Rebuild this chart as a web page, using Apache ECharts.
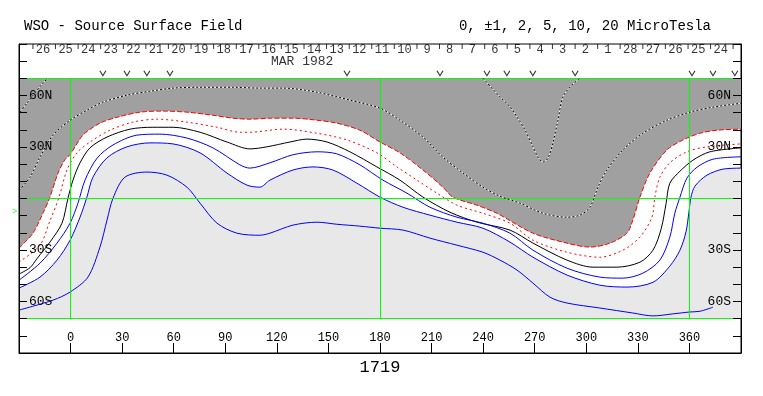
<!DOCTYPE html>
<html>
<head>
<meta charset="utf-8">
<script src="https://cdn.jsdelivr.net/npm/echarts@6/dist/echarts.min.js"></script>
<style>
  html, body { margin: 0; padding: 0; background: #fff; }
  #chart { width: 763px; height: 396px; }
</style>
</head>
<body>
<div id="chart"></div>
<script>
// contour lines, [carrington longitude, latitude]
const neg2Line = [[-30,-28.9],[-21.9,-20.2],[-16.1,-8.6],[-12,0.8],[-7.3,14.8],[-3.3,22.6],[-0.3,25.5],[7.2,36.9],[17.1,43.9],[27,47.3],[40.4,50.3],[53.8,50.9],[67.7,50.3],[82.8,48.5],[94.5,46.8],[104.3,46.2],[116,46.8],[129.4,46.8],[143.4,45.6],[154.9,43.9],[168.3,39.8],[180,32.9],[191.6,26.6],[205,16.6],[216.6,6.6],[222.4,0.8],[236.4,-3.9],[248,-8.6],[269,-20.2],[288.8,-26],[302.1,-28.3],[313.8,-26],[323.6,-20.2],[327.1,-12.6],[331.2,0.8],[337,14.8],[346.9,28.3],[356.2,34.1],[366.1,38],[376,39.8],[390,40.4]];
const neg1Line = [[-30,-37],[-17.8,-27.2],[-12,-13],[-6.8,0.5],[-2.1,16.6],[3.7,26.6],[11.3,32.9],[22.9,39.8],[36.3,44.5],[50.3,46.2],[67.7,44.5],[85.2,41.5],[98.5,38.6],[104.3,38.6],[123.6,40.4],[143.4,38],[160.8,34.1],[178.2,26.6],[189.9,18.4],[201.5,10.7],[213.1,3.1],[224.8,-3.9],[239.9,-8.6],[255.6,-14.4],[269,-24.3],[288.8,-31.3],[307.9,-34.2],[321.3,-30.1],[331.2,-22.5],[338.2,-10.9],[339.9,0.8],[342.8,12.4],[348.6,20.8],[358.5,27.2],[370.2,30.1],[390,31.8]];
const zeroLine = [[-30,-44],[-23.6,-40.3],[-19.5,-35],[-12,-25.4],[-5,-14.4],[-1.5,0.2],[1.4,10.7],[5.5,20.8],[11.3,29.5],[21.2,35.8],[34.6,40.4],[47.9,41.5],[59.6,41.5],[75.3,38.6],[91,32.9],[104.3,28.9],[114.2,30.1],[127.6,32.9],[137.5,34.6],[149.2,32.9],[162.5,27.2],[178.2,18.4],[191.6,10.7],[205,0.8],[220.7,-8],[236.4,-13.8],[255.6,-18.4],[269,-26],[288.8,-35.9],[303.9,-40],[317.8,-40],[331.2,-37.1],[338.8,-30.1],[343.6,-17.5],[346.4,-3],[348.6,8.9],[354.5,15.9],[362,22.3],[371.9,27.2],[390,29.5]];
const pos1Line = [[-30,-47.6],[-17.8,-37.7],[-7.9,-26],[-0.3,-14.4],[4.3,-2.7],[8.4,10.7],[15.4,23.5],[24.7,31.2],[38.6,36.9],[52,37.5],[67.7,35.2],[82.8,29.5],[98.5,19.6],[104.3,17.7],[116,20.8],[129.4,25.5],[143.4,27.2],[154.9,26],[168.3,19.6],[181.7,10.7],[195.7,3.1],[209.1,-5.1],[224.8,-10.9],[239.9,-14.4],[255.6,-20.2],[269,-30.1],[288.8,-40.6],[307.9,-45.8],[321.3,-46.4],[332.9,-43.5],[342.8,-35.9],[348.6,-22.5],[351.5,-8.6],[354.5,0.8],[358.5,11.8],[364.4,18.2],[373.7,22.9],[390,24.3]];
const pos2Line = [[-30,-52.2],[-17.8,-45.8],[-7.9,-35.9],[-0.3,-24.3],[5.5,-10.9],[9.5,0.8],[13,12.4],[21.2,23.7],[32.8,30.1],[46.2,32.4],[59.6,31.8],[75.3,26.6],[91,14.8],[102.6,7.8],[110.1,6.6],[116,10.7],[129.4,16.6],[141,18.4],[152.6,16.6],[166.6,8.9],[180,0.8],[193.4,-5.1],[209.1,-9.7],[224.8,-13.8],[239.9,-17.3],[255.6,-25.4],[269,-34.2],[288.8,-44.6],[307.9,-50.5],[323.6,-51.6],[338.8,-48.8],[348.6,-39.4],[354.5,-30.1],[358,-19.4],[359.7,-8],[360.9,0.8],[363.2,7.2],[370.2,13.6],[379.5,17.1],[390,17.7]];
const pos5Line = [[-30,-65],[-10.2,-59.2],[-0.3,-54.5],[10.1,-45.8],[17.1,-28.3],[21.2,-12.6],[24.7,0.2],[31.6,12.4],[44.4,15.4],[56.1,13.6],[67.7,6.6],[75.3,-2.7],[85.2,-14.4],[96.8,-20.2],[110.1,-21.4],[116,-20.2],[129.4,-15.5],[143.4,-13.8],[154.9,-15],[168.3,-16.1],[180,-17.3],[193.4,-18.4],[209.1,-23.1],[224.8,-27.2],[239.9,-31.3],[249.8,-35.9],[259.7,-41.7],[269,-49.3],[278.9,-57.5],[288.8,-60.9],[307.9,-63.8],[327.1,-66.7],[338.8,-68.4],[350.4,-67.2],[360.3,-66.1],[366.1,-65.7],[373.7,-63.3]];
const neg5LineA = [[-29.4,50.3],[-25.4,55.5],[-16.1,67.2],[-13.1,70]];
const neg5LineB = [[-30,4.8],[-23.6,12.4],[-17.8,24.1],[-10.2,36.9],[-0.3,45.6],[9.5,51.4],[18.8,56.1],[32.8,60.2],[46.2,62.5],[59.6,64.3],[75.3,64.8],[94.5,64.8],[110.1,64.3],[123.6,64.3],[143.4,61.9],[162.5,57.3],[180,52.6],[191.6,45.6],[205,35.8],[216.6,24.1],[228.3,14.8],[239.9,6.6],[249.8,1.3],[261.4,-2.7],[274.8,-8.6],[288.8,-10.9],[296.3,-9.7],[302.1,-5.1],[306.8,6.6],[312,16.6],[321.3,28.3],[332.9,38],[346.9,45.6],[360.3,50.3],[373.7,53.2],[390,55.5]];
const neg5LineU = [[239.9,70],[249.8,59.2],[255.6,53.4],[259.7,47.5],[264.4,39.8],[269,30.1],[271.9,24.1],[274.8,21.3],[277.7,23.5],[280.6,32.4],[283.5,45.6],[286.4,59.2],[291.6,66],[296.3,70]];

// observation marks above the map
const obsLons = [18.8, 32.8, 44.4, 57.8, 160.8, 214.9, 242.2, 253.8, 268.9, 293.5, 361.5, 373.7, 386.4];
// day-of-month scale along the top
const dayNums = [26,25,24,23,22,21,20,19,18,17,16,15,14,13,12,11,10,9,8,7,6,5,4,3,2,1,28,27,26,25,24];
const dayLons = [-16,-2.9,10.3,23.4,36.6,49.7,62.8,76,89.1,102.3,115.4,128.5,141.7,154.8,168,181.1,194.2,207.4,220.5,233.7,246.8,259.9,273.1,286.2,299.4,312.5,325.6,338.8,351.9,365.1,378.2];
const dayTickLons = [-21.9,-8.8,4.4,17.5,30.7,43.8,56.9,70.1,83.2,96.4,109.5,122.6,135.8,148.9,162.1,175.2,188.3,201.5,214.6,227.8,240.9,254,267.2,280.3,293.5,306.6,319.7,332.9,346,359.2,372.3,385.4];
const greenLons = [0, 180, 360];
const greenLats = [70, 0, -70];
const latLabels = { 60: '60N', 30: '30N', '-30': '30S', '-60': '60S' };
const b0Lat = -7.5;

const FONT = 'Liberation Mono';
const chart = echarts.init(document.getElementById('chart'));

function contour(data, color, type, z) {
  return {
    type: 'line', data: data, symbol: 'none', smooth: 0.3, silent: true, z: z || 4,
    lineStyle: { color: color, width: 1, type: type }
  };
}

const greenMarks = greenLons.map(x => [{ coord: [x, -70] }, { coord: [x, 70] }])
  .concat(greenLats.map(y => [{ coord: [-30, y] }, { coord: [390, y] }]));

const yAxisBase = {
  type: 'value', min: -90, max: 90, interval: 10, z: 10,
  axisLine: { show: true, onZero: false, lineStyle: { color: '#000', width: 1 } },
  axisTick: { show: true, inside: true, length: 8, lineStyle: { color: '#000' } },
  axisLabel: {
    inside: true, margin: 10, color: '#000', fontFamily: FONT, fontSize: 13,
    formatter: v => latLabels[v] || ''
  },
  splitLine: { show: false }
};

chart.setOption({
  animation: false,
  backgroundColor: '#fff',
  title: [
    { text: 'WSO - Source Surface Field', left: 24, top: 19, padding: 0,
      textStyle: { fontFamily: FONT, fontSize: 14, fontWeight: 'normal', color: '#000' } },
    { text: '0, \u00b11, 2, 5, 10, 20 MicroTesla', right: 52, top: 19, padding: 0,
      textStyle: { fontFamily: FONT, fontSize: 14, fontWeight: 'normal', color: '#000' } }
  ],
  grid: { left: 19, right: 22, top: 44, bottom: 43, show: true, borderColor: '#000', borderWidth: 1, backgroundColor: '#fff' },
  xAxis: {
    type: 'value', min: -30, max: 390, interval: 30, position: 'bottom', z: 10,
    axisLine: { show: true, onZero: false, lineStyle: { color: '#000' } },
    axisTick: { inside: true, length: 10, lineStyle: { color: '#000' } },
    axisLabel: {
      inside: true, margin: 9, color: '#000', fontFamily: FONT, fontSize: 12,
      formatter: v => (v < 0 || v > 360) ? '' : String(v)
    },
    splitLine: { show: false },
    name: '1719', nameLocation: 'middle', nameGap: 5,
    nameTextStyle: { fontFamily: FONT, fontSize: 17, color: '#000' }
  },
  yAxis: [
    Object.assign({}, yAxisBase, { position: 'left' }),
    Object.assign({}, yAxisBase, { position: 'right' })
  ],
  series: [
    { type: 'line', data: neg2Line, symbol: 'none', smooth: 0.3, silent: true, z: 1,
      lineStyle: { width: 0 }, areaStyle: { color: '#a0a0a0', opacity: 1, origin: 70 } },
    { type: 'line', data: pos2Line, symbol: 'none', smooth: 0.3, silent: true, z: 1,
      lineStyle: { width: 0 }, areaStyle: { color: '#e8e8e8', opacity: 1, origin: -70 } },
    { type: 'line', data: [], symbol: 'none', silent: true, z: 2,
      markLine: { silent: true, symbol: ['none', 'none'], label: { show: false },
        lineStyle: { color: '#00ff00', width: 1, type: 'solid' }, data: greenMarks } },
    contour(neg2Line, '#ff0000', [5, 2]),
    contour(neg1Line, '#ff0000', [2, 3]),
    contour(zeroLine, '#000000', 'solid'),
    contour(pos1Line, '#0000ff', 'solid'),
    contour(pos2Line, '#0000ff', 'solid'),
    contour(pos5Line, '#0000ff', 'solid'),
    contour(neg5LineA, '#ffffff', 'solid'),
    contour(neg5LineA, '#000000', [2, 2], 5),
    contour(neg5LineB, '#ffffff', 'solid'),
    contour(neg5LineB, '#000000', [2, 2], 5),
    contour(neg5LineU, '#ffffff', 'solid'),
    contour(neg5LineU, '#000000', [2, 2], 5),
    { type: 'scatter', data: obsLons.map(x => [x, 73]), silent: true, z: 6,
      symbol: 'path://M0,0L5,8L10,0', symbolSize: [6, 5],
      itemStyle: { color: 'transparent', borderColor: '#000', borderWidth: 1 } },
    { type: 'scatter', data: dayTickLons.map(x => [x, 88.6]), silent: true, z: 6,
      symbol: 'rect', symbolSize: [1, 5], itemStyle: { color: '#000' } },
    { type: 'scatter', data: dayLons.map((x, i) => [x, 86.4, dayNums[i]]), silent: true, z: 6,
      symbolSize: 1, itemStyle: { color: 'transparent' },
      label: { show: true, position: 'inside', formatter: p => String(p.value[2]),
        fontFamily: FONT, fontSize: 12, color: '#000' } },
    { type: 'scatter', data: [[134.7, 79.5]], silent: true, z: 6,
      symbolSize: 1, itemStyle: { color: 'transparent' },
      label: { show: true, position: 'inside', formatter: 'MAR 1982',
        fontFamily: FONT, fontSize: 13, color: '#000' } },
    { type: 'scatter', data: [[-30, b0Lat]], silent: true, z: 6, clip: false,
      symbolSize: 1, itemStyle: { color: 'transparent' },
      label: { show: true, position: 'left', distance: 1, formatter: '>',
        fontFamily: FONT, fontSize: 9, color: '#00ff00' } }
  ]
});
</script>
</body>
</html>
